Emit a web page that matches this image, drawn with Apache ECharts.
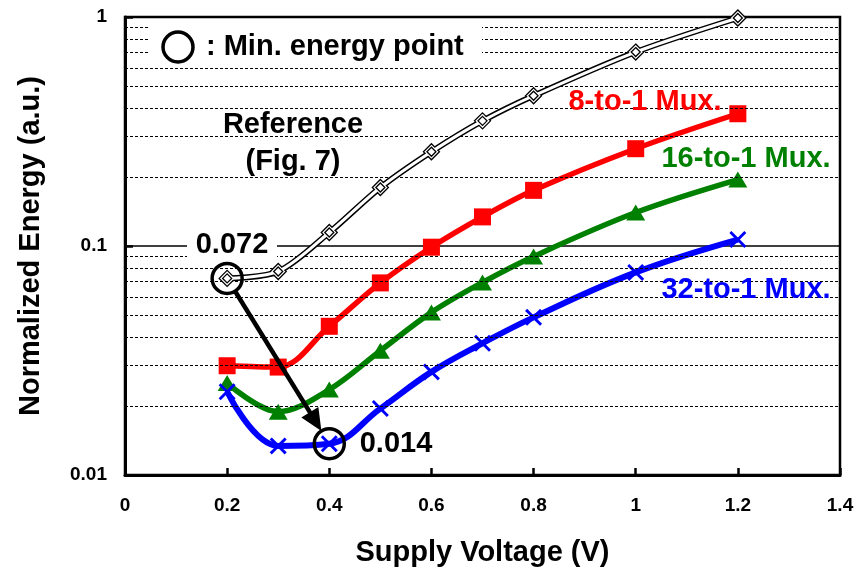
<!DOCTYPE html>
<html>
<head>
<meta charset="utf-8">
<script src="https://cdn.jsdelivr.net/npm/echarts@6/dist/echarts.min.js"></script>
<style>
html,body{margin:0;padding:0;background:#fff;}
#chart{width:860px;height:573px;}
</style>
</head>
<body>
<div id="chart"></div>
<script>
// ---- data ----
const voltages = [0.2, 0.3, 0.4, 0.5, 0.6, 0.7, 0.8, 1.0, 1.2];
const referenceEnergy = [0.0722, 0.0774, 0.1145, 0.18, 0.258, 0.352, 0.453, 0.703, 0.99];
const mux8Energy  = [0.0300, 0.0296, 0.0446, 0.0690, 0.0988, 0.134, 0.175, 0.266, 0.378];
const mux16Energy = [0.0252, 0.0189, 0.0236, 0.0349, 0.0513, 0.0693, 0.090, 0.140, 0.195];
const mux32Energy = [0.0231, 0.0134, 0.0137, 0.0195, 0.0282, 0.0376, 0.0488, 0.0767, 0.1067];
const minorGridValues = [0.02,0.03,0.04,0.05,0.06,0.07,0.08,0.09,0.2,0.3,0.4,0.5,0.6,0.7,0.8,0.9];
const minRefPoint = [0.2, 0.0722];
const minMux32Point = [0.4, 0.0137];
const labelMin = ': Min. energy point';
const labelRef1 = 'Reference';
const labelRef2 = '(Fig. 7)';
const labelRefVal = '0.072';
const labelMuxVal = '0.014';
const seriesNames = ['8-to-1 Mux.', '16-to-1 Mux.', '32-to-1 Mux.'];

const FONT = '"Liberation Sans", Arial, Helvetica, sans-serif';
function pairs(ys){ return voltages.map((v,i)=>[v, ys[i]]); }
const xSymbol = 'path://M0,1.2 L1.2,0 L5,3.8 L8.8,0 L10,1.2 L6.2,5 L10,8.8 L8.8,10 L5,6.2 L1.2,10 L0,8.8 L3.8,5 Z';

const chart = echarts.init(document.getElementById('chart'));
chart.setOption({
  animation: false,
  backgroundColor: '#fff',
  grid: { left: 125, right: 20, top: 17, bottom: 98, show: true, borderColor: '#000', borderWidth: 2.5, backgroundColor: 'transparent' },
  xAxis: {
    type: 'value', min: 0, max: 1.4, interval: 0.2,
    axisLine: { lineStyle: { color: '#000', width: 3 } },
    axisTick: { inside: true, length: 7, lineStyle: { color: '#000', width: 2.5 } },
    axisLabel: { color: '#000', fontFamily: FONT, fontWeight: 'bold', fontSize: 19, margin: 21 },
    splitLine: { show: false },
    name: 'Supply Voltage (V)', nameLocation: 'middle', nameGap: 63,
    nameTextStyle: { color: '#000', fontFamily: FONT, fontWeight: 'bold', fontSize: 29 }
  },
  yAxis: {
    type: 'log', logBase: 10, min: 0.01, max: 1,
    axisLine: { show: true, lineStyle: { color: '#000', width: 3 } },
    axisTick: { show: true, inside: true, length: 8, lineStyle: { color: '#000', width: 2.5 } },
    axisLabel: { color: '#000', fontFamily: FONT, fontWeight: 'bold', fontSize: 19, margin: 18, padding: [8, 0, 0, 0],
      formatter: function(v){ return v >= 1 ? '1' : (v >= 0.1 ? '0.1' : '0.01'); } },
    splitLine: { show: true, lineStyle: { color: '#000', width: 1.5, type: 'solid' } },
    name: 'Normalized Energy (a.u.)', nameLocation: 'middle', nameGap: 80, nameRotate: 90,
    nameTextStyle: { color: '#000', fontFamily: FONT, fontWeight: 'bold', fontSize: 29 }
  },
  series: [
    { type: 'line', data: [], z: 1, silent: true,
      markLine: { silent: true, symbol: ['none','none'], label: { show: false },
        lineStyle: { color: '#000', width: 1.2, type: [3, 2] },
        data: minorGridValues.map(v => ({ yAxis: v })) } },
    { name: 'Reference-outer', type: 'line', data: pairs(referenceEnergy), smooth: 0.3, z: 5,
      lineStyle: { color: '#000', width: 6 }, symbol: 'diamond', symbolSize: 16,
      itemStyle: { color: '#fff', borderColor: '#000', borderWidth: 1.3 } },
    { name: 'Reference-inner', type: 'line', data: pairs(referenceEnergy), smooth: 0.3, z: 6,
      lineStyle: { color: '#fff', width: 3 }, symbol: 'diamond', symbolSize: 9,
      itemStyle: { color: '#fff', borderColor: '#000', borderWidth: 1.3 } },
    { name: seriesNames[0], type: 'line', data: pairs(mux8Energy), smooth: 0.35, z: 4,
      lineStyle: { color: '#ff0000', width: 5.5 }, symbol: 'rect', symbolSize: 17,
      itemStyle: { color: '#ff0000' } },
    { name: seriesNames[1], type: 'line', data: pairs(mux16Energy), smooth: 0.35, z: 4,
      lineStyle: { color: '#008000', width: 5.5 }, symbol: 'triangle', symbolSize: [19, 16],
      itemStyle: { color: '#008000' } },
    { name: seriesNames[2], type: 'line', data: pairs(mux32Energy), smooth: 0.4, z: 4,
      lineStyle: { color: '#0000ff', width: 6 }, symbol: xSymbol, symbolSize: 17,
      itemStyle: { color: '#0000ff' } }
  ]
});

// ---- annotations ----
const c1 = chart.convertToPixel({ gridIndex: 0 }, minRefPoint);
const c2 = chart.convertToPixel({ gridIndex: 0 }, minMux32Point);
const dx = c2[0]-c1[0], dy = c2[1]-c1[1], L = Math.sqrt(dx*dx+dy*dy);
const ux = dx/L, uy = dy/L, px = -uy, py = ux;
const R = 15;
const start = [c1[0]+ux*(R+1), c1[1]+uy*(R+1)];
const tip = [c2[0]-ux*(R+0), c2[1]-uy*(R+0)];
const back = [tip[0]-ux*22, tip[1]-uy*22];
const txt = (x, y, text, color, size, extra) => Object.assign({
  type: 'text', x: x, y: y, z: 120,
  style: { text: text, fill: color, font: 'bold ' + size + 'px ' + FONT, textAlign: 'center', textVerticalAlign: 'middle' }
}, extra || {});

chart.setOption({
  graphic: [
    { type: 'rect', z: 100, shape: { x: 148, y: 22, width: 334, height: 41 }, style: { fill: '#fff' } },
    { type: 'circle', z: 110, shape: { cx: 178, cy: 47, r: 15 }, style: { fill: 'none', stroke: '#000', lineWidth: 3.5 } },
    { type: 'text', z: 120, x: 206, y: 47, style: { text: labelMin, fill: '#000', font: 'bold 29px ' + FONT, textAlign: 'left', textVerticalAlign: 'middle' } },
    txt(293, 125, labelRef1, '#000', 29),
    txt(293, 162, labelRef2, '#000', 29),
    { type: 'rect', z: 100, shape: { x: 187, y: 231, width: 90, height: 28 }, style: { fill: '#fff' } },
    txt(232, 245, labelRefVal, '#000', 29),
    txt(396, 444, labelMuxVal, '#000', 29),
    txt(645, 102, seriesNames[0], '#ff0000', 29),
    txt(746, 159, seriesNames[1], '#008000', 29),
    txt(746, 290, seriesNames[2], '#0000ff', 29),
    { type: 'circle', z: 110, shape: { cx: c1[0], cy: c1[1], r: R }, style: { fill: 'none', stroke: '#000', lineWidth: 3.5 } },
    { type: 'circle', z: 110, shape: { cx: c2[0], cy: c2[1], r: R }, style: { fill: 'none', stroke: '#000', lineWidth: 3.5 } },
    { type: 'line', z: 110, shape: { x1: start[0], y1: start[1], x2: back[0]+ux*2, y2: back[1]+uy*2 }, style: { stroke: '#000', lineWidth: 4.5 } },
    { type: 'polygon', z: 110, shape: { points: [tip, [back[0]+px*10, back[1]+py*10], [back[0]-px*10, back[1]-py*10]] }, style: { fill: '#000' } }
  ]
});
</script>
</body>
</html>
